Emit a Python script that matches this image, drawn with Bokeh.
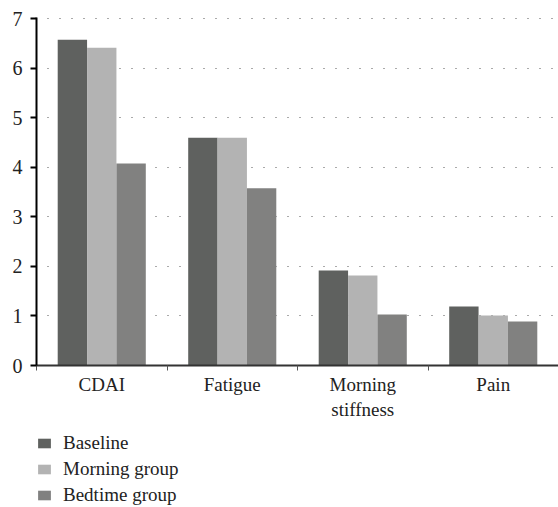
from bokeh.plotting import figure
from bokeh.layouts import column
from bokeh.models import (ColumnDataSource, Range1d, FixedTicker, LinearAxis,
                          Legend, LegendItem)
from bokeh.transform import dodge
from bokeh.embed import file_html
from bokeh.resources import INLINE

# ---- data ----
categories = ["CDAI", "Fatigue", "Morning\nstiffness", "Pain"]
baseline = [6.58, 4.60, 1.92, 1.19]
morning_group = [6.42, 4.60, 1.82, 1.01]
bedtime_group = [4.08, 3.58, 1.03, 0.89]
series_names = ["Baseline", "Morning group", "Bedtime group"]
y_ticks = [0, 1, 2, 3, 4, 5, 6, 7]

colors = ["#5f615f", "#b3b3b3", "#818180"]
FONT = "Liberation Serif"
W = 558

pos = [i + 0.5 for i in range(len(categories))]
src = ColumnDataSource(dict(x=pos, baseline=baseline,
                            morning=morning_group, bedtime=bedtime_group))

p = figure(width=W, height=432, output_backend="svg", toolbar_location=None,
           x_range=Range1d(0, len(categories)), y_range=Range1d(0, 7.03),
           x_axis_location=None, y_axis_location=None,
           min_border_left=36, min_border_right=0, min_border_top=17,
           min_border_bottom=67)
p.outline_line_color = None
p.xgrid.visible = False

bw = 0.225
fields = ["baseline", "morning", "bedtime"]
for field, off, col in zip(fields, [-bw, 0, bw], colors):
    p.vbar(x=dodge("x", off, range=p.x_range), top=field, width=bw,
           source=src, fill_color=col, line_color=None)

# y axis
yaxis = LinearAxis(ticker=FixedTicker(ticks=y_ticks, minor_ticks=[]))
yaxis.axis_line_color = "black"
yaxis.axis_line_width = 2
yaxis.major_tick_line_color = "black"
yaxis.major_tick_line_width = 2
yaxis.major_tick_out = 6
yaxis.major_tick_in = 0
yaxis.minor_tick_line_color = None
yaxis.major_label_text_font = FONT
yaxis.major_label_text_font_size = "20px"
yaxis.major_label_text_color = "#222222"
yaxis.major_label_standoff = 8
p.add_layout(yaxis, "left")

# x axis: labels at category centres, ticks at boundaries
xaxis = LinearAxis(ticker=FixedTicker(ticks=pos,
                                      minor_ticks=list(range(len(categories) + 1))))
xaxis.major_label_overrides = {x: c for x, c in zip(pos, categories)}
xaxis.axis_line_color = "#333333"
xaxis.axis_line_width = 2
xaxis.major_tick_line_color = None
xaxis.minor_tick_line_color = "#555555"
xaxis.minor_tick_out = 5
xaxis.minor_tick_in = 0
xaxis.major_label_text_font = FONT
xaxis.major_label_text_font_size = "19px"
xaxis.major_label_text_color = "#222222"
xaxis.major_label_standoff = 2
p.add_layout(xaxis, "below")

# grid
p.ygrid.ticker = FixedTicker(ticks=y_ticks[1:])
p.ygrid.grid_line_color = "#555555"
p.ygrid.grid_line_dash = "1 11"
p.ygrid.grid_line_dash_offset = 1
p.ygrid.grid_line_width = 1

# legend panel (separate strip below the chart)
lg = figure(width=W, height=75, output_backend="svg", toolbar_location=None,
            x_range=Range1d(0, 1), y_range=Range1d(0, 1),
            x_axis_location=None, y_axis_location=None,
            min_border_left=36, min_border_right=0, min_border_top=0,
            min_border_bottom=0)
lg.outline_line_color = None
lg.grid.visible = False
dummy = ColumnDataSource(dict(x=[-5.0], top=[0.0]))
leg_r = [lg.vbar(x="x", top="top", width=0.1, source=dummy,
                 fill_color=c, line_color=None) for c in colors]
legend = Legend(items=[LegendItem(label=n, renderers=[r])
                       for n, r in zip(series_names, leg_r)],
                location="top_left", orientation="vertical")
legend.border_line_alpha = 0
legend.background_fill_alpha = 0
legend.glyph_width = 16
legend.glyph_height = 12
legend.label_height = 19
legend.spacing = 4
legend.padding = 0
legend.margin = 0
legend.label_standoff = 11
legend.label_text_font = FONT
legend.label_text_font_size = "19px"
legend.label_text_color = "#222222"
lg.add_layout(legend, "center")

open("out.html", "w").write(file_html(column(p, lg, spacing=0), INLINE))
